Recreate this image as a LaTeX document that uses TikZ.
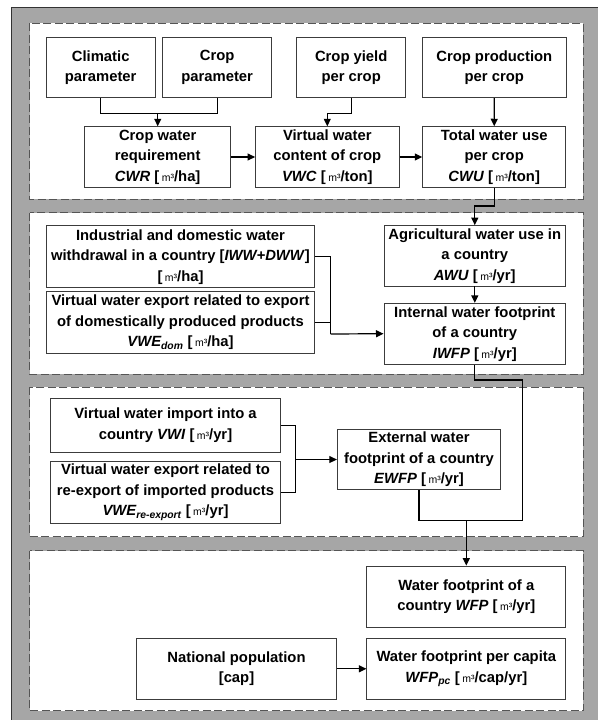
\documentclass[tikz,border=0pt]{standalone}
\usepackage{fontspec}
\setmainfont{Liberation Sans}
\usetikzlibrary{positioning,arrows.meta}

\definecolor{framegray}{HTML}{A6A6A6}
\definecolor{frameline}{HTML}{333333}
\definecolor{dashline}{HTML}{555555}
\definecolor{boxline}{HTML}{3C3C3C}

\newcommand{\cubm}{{\mdseries\fontsize{10.5}{10.5}\selectfont m³}}

\tikzset{
  block/.style={draw=boxline, line width=0.9pt, fill=white, align=center, inner sep=0pt,
    minimum height=61pt, font=\fontsize{14.8}{20.5}\selectfont\bfseries},
  panel/.style={draw=dashline, line width=0.9pt, fill=white, dash pattern=on 8pt off 3.5pt},
  link/.style={line width=1.2pt, black}
}

\begin{document}
\begin{tikzpicture}[x=1pt,y=-1pt,on grid,>={Triangle[length=7.5pt,width=7pt]}]
    \useasboundingbox (0,0) rectangle (598,720);
    \fill[framegray] (11.7,7.3) rectangle (598,720);
    \draw[frameline,line width=1.5pt] (11.7,720) -- (11.7,7.3) -- (598,7.3);

    \draw[panel] (29.5,23.3)  rectangle (583.3,199);
    \draw[panel] (29.5,212.7) rectangle (583.3,374);
    \draw[panel] (29.5,387.3) rectangle (583.3,536.7);
    \draw[panel] (29.5,550.5) rectangle (583.3,710.7);

    % crop level
    \node[block,minimum width=108.5pt,minimum height=60.4pt] (clim) at (100.7,67.5) {Climatic\\parameter};
    \node[block,minimum width=109pt,minimum height=60.4pt] (cpar)   [right=116.5pt of clim]   {Crop\\parameter};
    \node[block,minimum width=109pt,minimum height=60.4pt] (cyield) [right=134pt of cpar]     {Crop yield\\per crop};
    \node[block,minimum width=143.3pt,minimum height=60.4pt] (cprod) [right=143.1pt of cyield] {Crop production\\per crop};
    \node[block,minimum width=146pt,minimum height=60.6pt] (cwr) at (157.7,157)
        {Crop water\\requirement\\\textit{CWR} [\,\cubm/ha]};
    \node[block,minimum width=143.5pt,minimum height=60.6pt] (vwc) [right=169.6pt of cwr]
        {Virtual water\\content of crop\\\textit{VWC} [\,\cubm/ton]};
    \node[block,minimum width=143pt,minimum height=60.6pt] (cwu) [right=166.9pt of vwc]
        {Total water use\\per crop\\\textit{CWU} [\,\cubm/ton]};

    % internal level
    \node[block,minimum width=268pt,minimum height=62pt] (ind) at (180.5,256.7)
        {Industrial and domestic water\\withdrawal in a country [\textit{IWW+DWW}]\\{[\,\cubm/ha]}};
    \node[block,minimum width=268pt,minimum height=62.3pt] (vwed) [below=65.5pt of ind]
        {Virtual water export related to export\\of domestically produced products\\\textit{VWE\textsubscript{dom}} [\,\cubm/ha]};
    \node[block,minimum width=181.7pt,minimum height=60.3pt] (awu) at (474.8,255.8)
        {Agricultural water use in\\a country\\\textit{AWU} [\,\cubm/yr]};
    \node[block,minimum width=181.7pt,minimum height=60.7pt] (iwfp) [below=77.9pt of awu]
        {Internal water footprint\\of a country\\\textit{IWFP} [\,\cubm/yr]};

    % external level
    \node[block,minimum width=229.6pt,minimum height=54pt] (vwi) at (165.5,425.3)
        {Virtual water import into a\\country \textit{VWI} [\,\cubm/yr]};
    \node[block,minimum width=229.6pt,minimum height=62.4pt] (vwer) [below=66.9pt of vwi]
        {Virtual water export related to\\re-export of imported products\\\textit{VWE\textsubscript{re-export}} [\,\cubm/yr]};
    \node[block,minimum width=163.4pt,minimum height=60.7pt] (ewfp) at (419,459.5)
        {External water\\footprint of a country\\\textit{EWFP} [\,\cubm/yr]};

    % national level
    \node[block,minimum width=198.8pt,minimum height=61.3pt] (wfp) at (466.3,596.7)
        {Water footprint of a\\country \textit{WFP} [\,\cubm/yr]};
    \node[block,minimum width=198.8pt] (wfppc) [below=72.1pt of wfp]
        {Water footprint per capita\\\textit{WFP\textsubscript{pc}} [\,\cubm/cap/yr]};
    \node[block,minimum width=199.9pt] (pop) [left=229.8pt of wfppc]
        {National population\\{[cap]}};

    \coordinate (j1) at (cwr.north |- 0,113.3);
    \coordinate (j2) at (vwc.north |- 0,113.3);
    \coordinate (j3) at (cwu.south |- 0,206);
    \coordinate (j4) at (330.7,334);
    \coordinate (j5) at (522.7,380);
    \coordinate (j6) at (522.7,520.7);
    \coordinate (j7) at (wfp.north |- j6);
    \coordinate (j8) at (295.7,459.5);

    \draw[link] (clim.south) |- (j1);
    \draw[link] (cpar.south) |- (j1);
    \draw[link,->] (j1) -- (cwr.north);
    \draw[link] (cyield.south) |- (j2);
    \draw[link,->] (j2) -- (vwc.north);
    \draw[link,->] (cprod) -- (cwu);
    \draw[link,->] (cwr) -- (vwc);
    \draw[link,->] (vwc) -- (cwu);

    \draw[link,->] (cwu.south) -- (j3) -| (awu.north);
    \draw[link,->] (awu) -- (iwfp);
    \draw[link] (ind.east) -| (j4);
    \draw[link] (vwed.east) -| (j4);
    \draw[link,->] (j4) -- (iwfp.west);

    \draw[link] (iwfp.south) |- (j5) -- (j6) -| (ewfp.south);
    \draw[link] (vwi.east) -| (j8);
    \draw[link] (vwer.east) -| (j8);
    \draw[link,->] (j8) -- (ewfp.west);
    \draw[link,->] (j7) -- (wfp.north);
    \draw[link,->] (pop) -- (wfppc);
\end{tikzpicture}
\end{document}
